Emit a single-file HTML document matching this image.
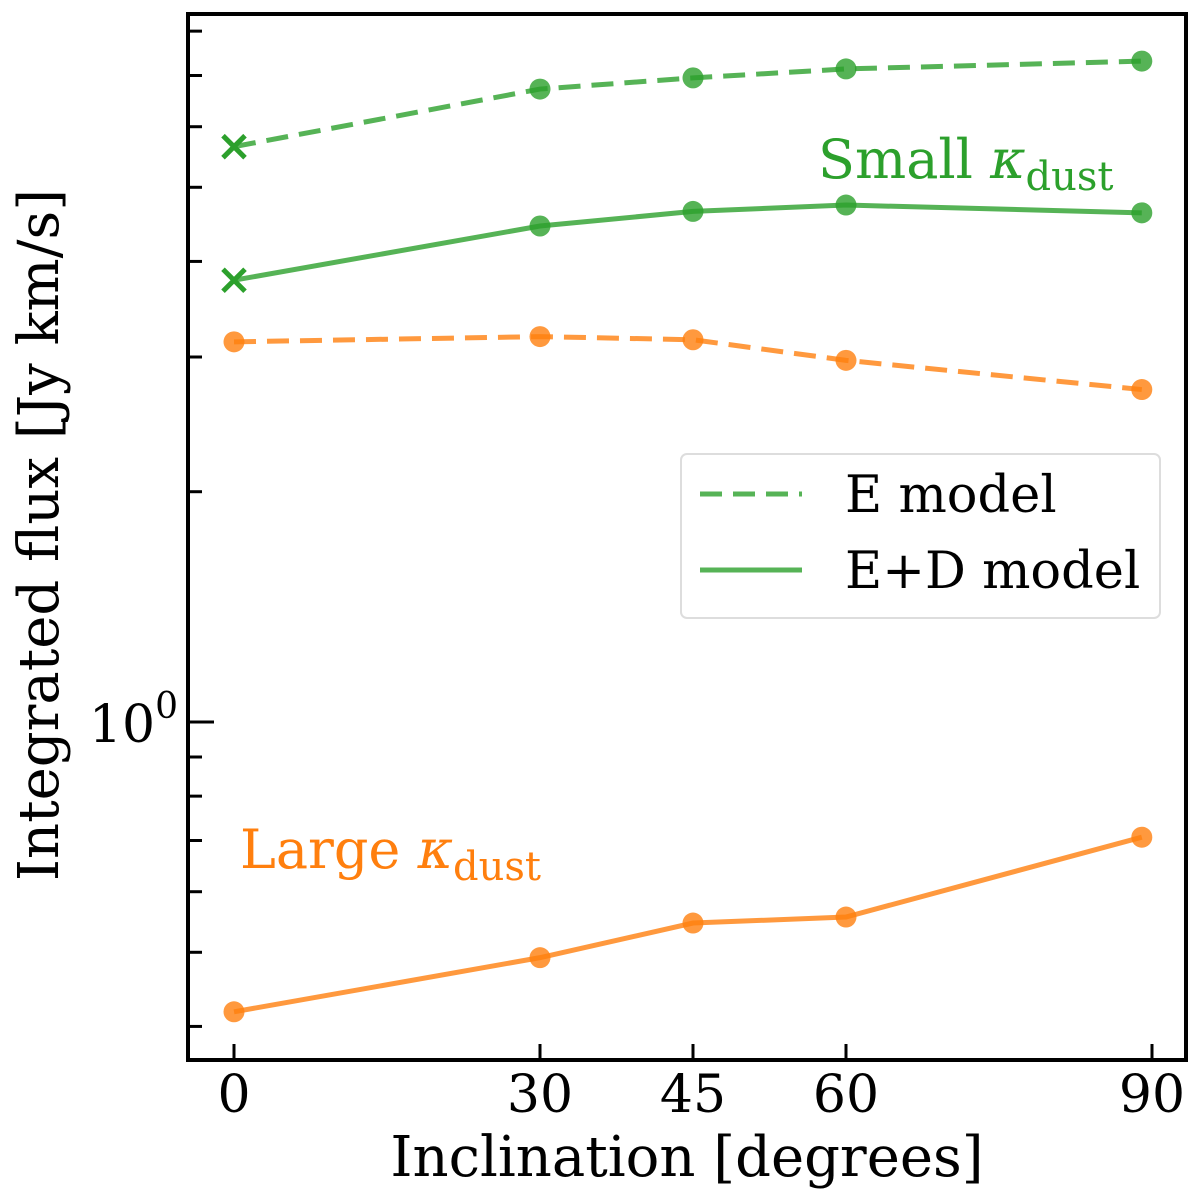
<!DOCTYPE html>
<html><head><meta charset="utf-8"><style>
html,body{margin:0;padding:0;background:#fff}
svg text{font-family:"DejaVu Serif","Liberation Serif",serif}
</style></head><body>
<svg id="chart" width="1200" height="1198" viewBox="0 0 1200 1198" xmlns="http://www.w3.org/2000/svg">
<g id="marks"></g>
<g id="axes"></g>
</svg>
<script>
const inclinations=[0,30,45,60,89];
const smallE=[5.65,6.72,6.95,7.14,7.31];
const smallED=[3.78,4.45,4.65,4.74,4.63];
const largeE=[3.14,3.19,3.16,2.97,2.72];
const largeED=[0.418,0.492,0.546,0.556,0.707];
const xTicks=[0,30,45,60,90];
const yMinorTicks=[0.4,0.5,0.6,0.7,0.8,0.9,2,3,4,5,6,7,8];

const L=188,R=1186,T=14,B=1060;
const X=v=>234+(v)*10.2;
const Y=v=>722-Math.log10(v)*765;
const NS='http://www.w3.org/2000/svg';
function mk(tag,attrs,parent){const e=document.createElementNS(NS,tag);for(const k in attrs)e.setAttribute(k,attrs[k]);parent.appendChild(e);return e;}
const marks=document.getElementById('marks'),axes=document.getElementById('axes');
const G='#2ca02c',O='#ff7f0e';
function series(vals,color,dashed,xFirst,name){
  const g=mk('g',{},marks);
  
  
  const pts=inclinations.map((x,i)=>X(x)+','+Y(vals[i])).join(' ');
  const pl=mk('polyline',{points:pts,fill:'none',stroke:color,'stroke-width':5,'stroke-opacity':0.8,'stroke-dasharray':dashed?'22,11':'none'},g);
  
  
  inclinations.forEach((x,i)=>{
    const cx=X(x),cy=Y(vals[i]);
    if(i===0&&xFirst){
      const p=mk('path',{d:`M${cx-11},${cy-11}L${cx+11},${cy+11}M${cx-11},${cy+11}L${cx+11},${cy-11}`,stroke:color,'stroke-width':5},g);
      
      
    } else {
      const c=mk('circle',{cx:cx,cy:cy,r:10.5,fill:color,'fill-opacity':0.8},g);
      
      
    }
  });
}
series(smallE,G,true,true,'small-e-model');
series(smallED,G,false,true,'small-ed-model');
series(largeE,O,true,false,'large-e-model');
series(largeED,O,false,false,'large-ed-model');

const fr=mk('rect',{x:L,y:T,width:R-L,height:B-T,fill:'none',stroke:'#000','stroke-width':4},axes);

xTicks.forEach(v=>{
  const t=mk('line',{x1:X(v),x2:X(v),y1:B,y2:B-16,stroke:'#000','stroke-width':3},axes);
  
  const tx=mk('text',{x:X(v),y:B+52,'font-size':52,'text-anchor':'middle'},axes);
  tx.textContent=v;
  
});
const mj=mk('line',{x1:L,x2:L+26,y1:Y(1),y2:Y(1),stroke:'#000','stroke-width':3},axes);

yMinorTicks.forEach(v=>{
  const t=mk('line',{x1:L,x2:L+14,y1:Y(v),y2:Y(v),stroke:'#000','stroke-width':3},axes);
  
});
const yl=mk('text',{x:178,y:Y(1)+20,'font-size':52,'text-anchor':'end'},axes);
yl.innerHTML='10<tspan dy="-24" font-size="36">0</tspan>';

</script>
<svg width="1200" height="1198" style="position:absolute;left:0;top:0" xmlns="http://www.w3.org/2000/svg">
<text x="687" y="1176" font-size="56" text-anchor="middle" font-family="DejaVu Serif,serif">Inclination [degrees]</text>
<text transform="translate(58,535) rotate(-90)" font-size="56" text-anchor="middle" font-family="DejaVu Serif,serif">Integrated flux [Jy km/s]</text>
<text x="818" y="178" font-size="54" fill="#2ca02c" font-family="DejaVu Serif,serif">Small <tspan font-style="italic">κ</tspan><tspan dy="12" font-size="40">dust</tspan></text>
<text x="240" y="868" font-size="54" fill="#ff7f0e" font-family="DejaVu Serif,serif">Large <tspan font-style="italic">κ</tspan><tspan dy="12" font-size="40">dust</tspan></text>
<g>
<rect x="681" y="454" width="479" height="164" rx="6" fill="#fff" fill-opacity="0.8" stroke="#ddd" stroke-width="2"/>
<line x1="700" x2="802" y1="494" y2="494" stroke="#2ca02c" stroke-opacity="0.8" stroke-width="5" stroke-dasharray="22,11"/>
<text x="845" y="512" font-size="51" font-family="DejaVu Serif,serif">E model</text>
<line x1="700" x2="802" y1="570" y2="570" stroke="#2ca02c" stroke-opacity="0.8" stroke-width="5"/>
<text x="845" y="588" font-size="51" font-family="DejaVu Serif,serif">E+D model</text>
</g>
</svg>
</body></html>
